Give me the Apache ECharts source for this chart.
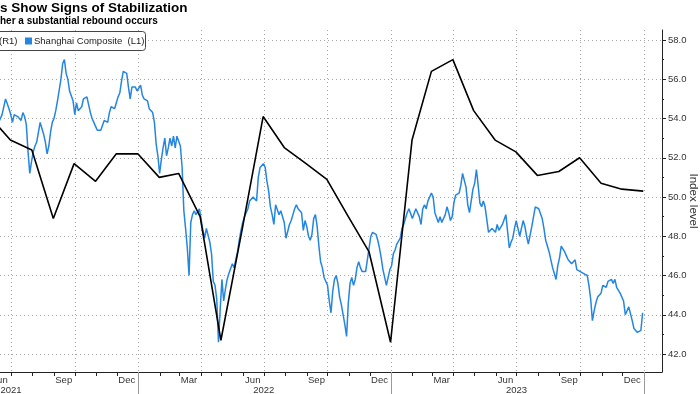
<!DOCTYPE html>
<html><head><meta charset="utf-8">
<script src="https://cdn.jsdelivr.net/npm/echarts@6/dist/echarts.min.js"></script>
<style>html,body{margin:0;padding:0;background:#fff}#c{width:700px;height:394px}</style>
</head><body><div id="c"></div>
<script>
// ---------- texts ----------
const titleText = 's Show Signs of Stabilization';
const subtitleText = 'her a substantial rebound occurs';
const legendLeftText = '(R1)';
const legendBlueText = 'Shanghai Composite  (L1)';
const yAxisName = 'Index level';

// ---------- Shanghai Composite (L1), sampled every 2.5 days from 13 Jun 2021 ----------
const blueStart = [2021, 5, 13];
const blueStepDays = 2.5;
const shanghaiComposite = [
  53.8,53.8,54.2,54.6,55.0,55.1,54.5,54.2,53.8,54.2,
  54.1,54.1,54.2,53.9,54.3,54.1,53.7,52.3,51.2,51.8,
  52.3,52.6,52.8,52.9,53.8,53.7,53.2,52.8,52.2,52.6,
  53.3,53.8,54.0,54.4,54.9,54.9,56.0,56.8,57.0,56.3,
  56.0,55.4,55.4,54.9,54.2,54.8,54.4,54.4,54.6,55.0,
  54.9,55.1,55.2,54.3,54.0,53.8,53.6,53.4,53.3,53.4,
  53.5,53.9,53.8,53.8,54.3,54.6,54.7,54.5,54.8,55.1,
  55.3,55.9,56.4,56.3,56.3,55.6,55.0,55.6,55.6,55.6,
  55.4,55.4,55.7,55.2,55.0,54.9,54.9,54.5,54.5,54.3,
  53.8,52.7,52.1,51.2,51.9,52.5,53.0,52.1,52.5,53.0,
  52.6,53.1,52.5,53.1,53.0,52.6,51.5,49.3,48.4,47.4,
  46.0,48.7,49.1,49.3,49.1,49.1,49.4,49.3,48.3,47.9,
  48.4,48.3,47.7,47.1,45.7,45.5,44.8,42.6,44.3,45.8,
  44.7,45.3,45.8,46.1,46.1,46.6,46.4,46.3,47.2,47.8,
  48.3,48.7,49.0,49.1,49.4,49.8,49.9,50.0,49.9,49.8,
  51.0,51.5,51.6,51.7,51.5,50.8,50.3,49.5,49.1,48.6,
  49.6,49.5,49.1,49.3,49.2,48.7,47.9,48.0,48.6,48.8,
  49.1,49.4,49.6,49.4,49.5,49.2,48.3,48.8,48.5,48.0,
  47.8,48.1,48.9,49.1,48.5,47.5,46.7,46.4,45.9,45.8,
  45.5,44.7,44.1,45.2,45.8,46.0,45.6,44.9,44.5,44.6,
  43.5,42.9,44.6,45.6,45.9,45.5,45.8,46.4,46.7,46.4,
  46.2,46.2,46.2,46.8,47.4,48.0,48.2,48.1,48.1,47.8,
  47.4,46.9,46.3,45.9,45.5,45.9,46.3,46.5,47.1,47.3,
  47.6,47.5,47.9,48.4,48.6,48.7,49.2,49.4,49.3,48.9,
  48.9,49.4,49.4,49.0,48.6,49.4,49.6,49.4,49.8,50.0,
  50.2,50.0,49.2,49.3,48.7,49.0,48.7,48.6,49.1,49.5,
  49.2,48.8,49.0,49.7,50.1,50.2,50.2,50.6,51.2,51.2,
  50.5,49.6,49.2,49.8,50.4,50.7,51.4,50.6,49.7,49.5,
  49.8,49.5,49.5,48.2,48.2,48.4,48.3,48.2,48.6,48.3,
  48.3,48.6,48.7,49.1,49.0,47.4,47.7,47.9,48.4,48.8,
  48.4,48.0,48.4,48.8,48.5,48.0,47.6,47.6,48.5,48.5,
  49.5,49.6,49.4,49.3,48.9,48.4,47.8,47.5,47.2,46.8,
  46.4,46.1,45.8,46.5,46.9,47.5,47.5,47.2,47.0,46.8,
  46.8,46.6,46.5,46.8,46.3,46.4,46.2,46.2,46.1,46.2,
  46.0,45.5,44.8,43.7,44.2,44.6,44.9,44.9,45.1,45.5,
  45.5,45.4,45.7,45.6,45.8,45.6,45.8,45.4,45.3,45.1,
  45.1,44.7,44.0,44.0,44.4,44.3,43.7,43.3,43.2,43.1,
  43.0,43.2,44.1
];

// ---------- R1 series (monthly) ----------
const pmiDates = [
  '2021-05-31','2021-06-30','2021-07-31','2021-08-31','2021-09-30','2021-10-31','2021-11-30','2021-12-31',
  '2022-01-31','2022-02-28','2022-03-31','2022-04-30','2022-05-31','2022-06-30','2022-07-31','2022-08-31',
  '2022-09-30','2022-10-31','2022-11-30','2022-12-31',
  '2023-01-31','2023-02-28','2023-03-31','2023-04-30','2023-05-31','2023-06-30','2023-07-31','2023-08-31',
  '2023-09-30','2023-10-31','2023-11-30','2023-12-31'
];
const pmiValues = [
  54.1,52.9,52.4,48.9,51.7,50.8,52.2,52.2,
  51.0,51.2,49.0,42.7,48.4,54.1,52.5,51.7,50.9,49.0,47.2,42.6,
  52.9,56.4,57.0,54.4,52.9,52.3,51.1,51.3,52.0,50.7,50.4,50.3
];

// ---------- axis ticks / labels ----------
const yMin = 42, yMax = 58, yStep = 2;
const monthNames = ['Jan','Feb','Mar','Apr','May','Jun','Jul','Aug','Sep','Oct','Nov','Dec'];
const labelledMonths = [2, 5, 8, 11];   // Mar, Jun, Sep, Dec
const yearLabels = [2021, 2022, 2023];
const axisStart = [2021, 5, 15];
const axisEnd = [2024, 0, 27];

// ---------- build ----------
const DAY = 86400000;
const ts = (y, m, d) => new Date(y, m, d).getTime();
const parseDate = s => { const p = s.split('-').map(Number); return ts(p[0], p[1] - 1, p[2]); };
const xMin = ts(...axisStart), xMax = ts(...axisEnd);
const blueT0 = ts(...blueStart);
const blueData = shanghaiComposite.map((v, k) => [blueT0 + k * blueStepDays * DAY, v]);
const pmiData = pmiDates.map((d, i) => [parseDate(d), pmiValues[i]]);

const monthStarts = [], quarterStarts = [], monthLabelDates = [], yearStarts = [];
for (let y = 2021; y <= 2024; y++) {
  for (let m = 0; m < 12; m++) {
    const t = ts(y, m, 1);
    if (t >= xMin && t <= xMax) {
      monthStarts.push(t);
      if (m % 3 === 0) quarterStarts.push(t);
      if (m === 0) yearStarts.push(t);
    }
    const mid = ts(y, m, 15);
    if (labelledMonths.includes(m) && mid >= xMin && mid <= xMax) monthLabelDates.push(mid);
  }
}
const yearLabelDates = yearLabels.map(y => ts(y, 6, 1));

const FONT = 'Liberation Sans, Arial, sans-serif';
const BLUE = '#2486e0';
const GRIDC = '#a6a6a6';
const AX = '#222';

const chart = echarts.init(document.getElementById('c'), null, {renderer: 'canvas'});
chart.setOption({
  animation: false,
  backgroundColor: '#fff',
  title: [
    {text: titleText, left: 0, top: 1, padding: 0,
     textStyle: {fontSize: 13.5, fontWeight: 'bold', color: '#000', fontFamily: FONT}},
    {text: subtitleText, left: 0, top: 16, padding: 0,
     textStyle: {fontSize: 10, fontWeight: 'bold', color: '#000', fontFamily: FONT}}
  ],
  grid: [
    {left: 0, right: 38, top: 40, bottom: 40, outerBoundsMode: 'none', containLabel: false},
    {left: 0, right: 38, top: 30, bottom: 22, outerBoundsMode: 'none', containLabel: false}
  ],
  xAxis: [
    {type: 'value', gridIndex: 0, min: xMin, max: xMax, show: false},
    {type: 'value', gridIndex: 1, min: xMin, max: xMax, position: 'bottom',
     axisLine: {show: true, onZero: false, lineStyle: {color: AX, width: 1}},
     axisTick: {show: true, customValues: monthStarts, length: 4, lineStyle: {color: AX}},
     axisLabel: {show: true, customValues: monthLabelDates, margin: 3, fontSize: 9.5, color: '#333', fontFamily: FONT,
                 hideOverlap: false, formatter: v => monthNames[new Date(v).getMonth()]},
     splitLine: {show: false}},
    {type: 'value', gridIndex: 1, min: xMin, max: xMax, position: 'bottom',
     axisLine: {show: false, onZero: false},
     axisTick: {show: false, customValues: quarterStarts},
     axisLabel: {show: true, customValues: yearLabelDates, margin: 13, fontSize: 9.5, color: '#333', fontFamily: FONT,
                 formatter: v => String(new Date(v).getFullYear())},
     splitLine: {show: true, lineStyle: {color: GRIDC, type: [1, 3], width: 1}}},
    {type: 'value', gridIndex: 1, min: xMin, max: xMax, position: 'bottom',
     axisLine: {show: false, onZero: false},
     axisTick: {show: true, customValues: yearStarts, length: 22, lineStyle: {color: '#999'}},
     axisLabel: {show: false},
     splitLine: {show: false}}
  ],
  yAxis: [
    {type: 'value', gridIndex: 0, position: 'right', min: yMin, max: yMax, interval: yStep,
     axisLine: {show: false},
     axisTick: {show: true, length: 4, lineStyle: {color: AX}},
     minorTick: {show: true, splitNumber: 2, length: 2, lineStyle: {color: AX}},
     axisLabel: {margin: 6, fontSize: 9.5, color: '#333', fontFamily: FONT, formatter: v => v.toFixed(1)},
     splitLine: {show: true, lineStyle: {color: GRIDC, type: [1, 3], width: 1}}},
    {type: 'value', gridIndex: 0, position: 'left', min: yMin, max: yMax, show: false},
    {type: 'value', gridIndex: 1, position: 'right', min: 0, max: 1,
     axisLine: {show: true, onZero: false, lineStyle: {color: AX, width: 1}},
     axisTick: {show: false}, axisLabel: {show: false}, splitLine: {show: false},
     name: yAxisName, nameLocation: 'middle', nameRotate: -90, nameGap: 25,
     nameTextStyle: {fontSize: 11.5, color: '#333', fontFamily: FONT}}
  ],
  series: [
    {name: 'Shanghai Composite (L1)', type: 'line', xAxisIndex: 0, yAxisIndex: 1, data: blueData,
     showSymbol: false, symbol: 'none', lineStyle: {color: BLUE, width: 1.5}, z: 3},
    {name: 'R1', type: 'line', xAxisIndex: 0, yAxisIndex: 0, data: pmiData,
     showSymbol: false, symbol: 'none', lineStyle: {color: '#000', width: 1.6}, z: 4}
  ],
  graphic: [
    {type: 'rect', z: 100, shape: {x: -10.5, y: 31.5, width: 156, height: 19, r: 3},
     style: {fill: '#fff', stroke: '#444', lineWidth: 1}},
    {type: 'text', z: 101, x: -1, y: 41,
     style: {text: legendLeftText, fontSize: 9.5, fontFamily: FONT, fill: '#222', verticalAlign: 'middle'}},
    {type: 'rect', z: 101, shape: {x: 25, y: 37.5, width: 7, height: 7}, style: {fill: BLUE}},
    {type: 'text', z: 101, x: 34, y: 41,
     style: {text: legendBlueText, fontSize: 9.5, fontFamily: FONT, fill: '#222', verticalAlign: 'middle'}}
  ]
});
</script></body></html>
